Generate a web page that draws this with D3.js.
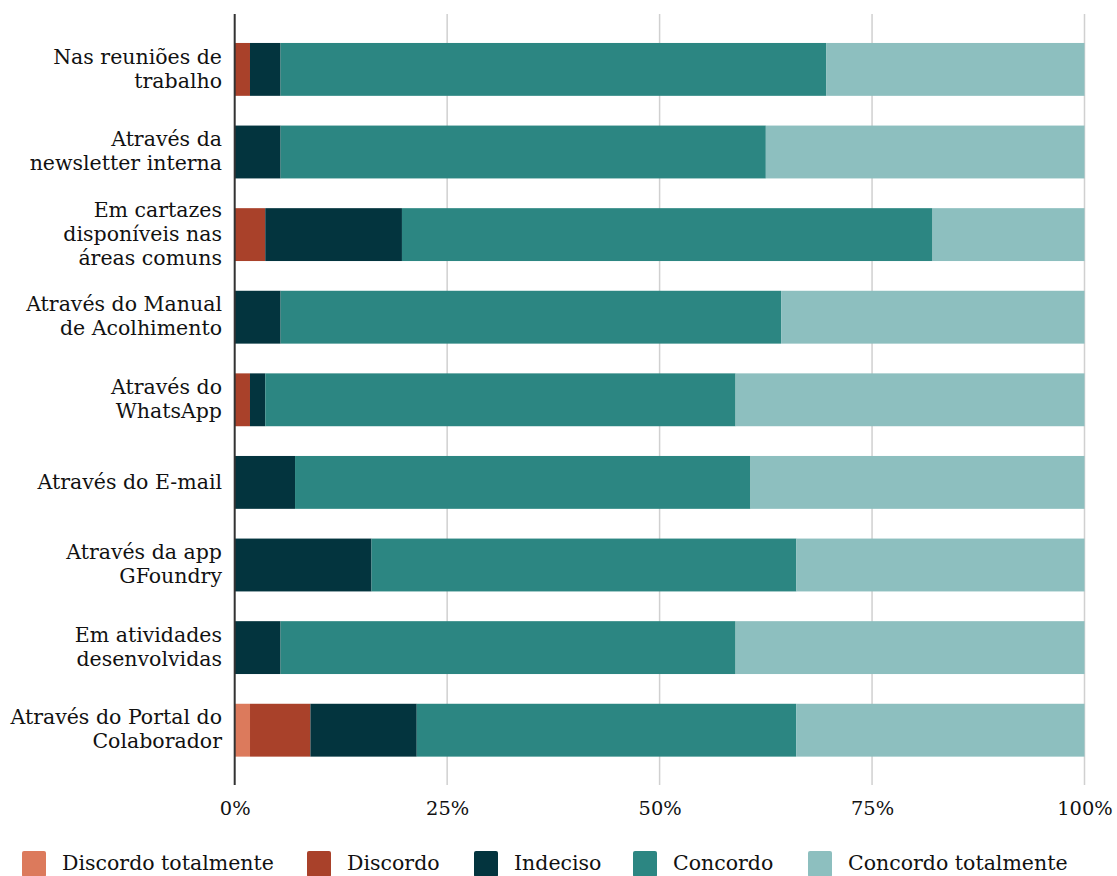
<!DOCTYPE html>
<html>
<head>
<meta charset="utf-8">
<script src="https://cdn.jsdelivr.net/npm/d3@7"></script>
<style>
  html, body { margin: 0; padding: 0; background: #fff; }
  svg { display: block; }
  text { font-family: "DejaVu Serif", Georgia, serif; fill: #111; }
</style>
</head>
<body>
<svg id="chart" width="1117" height="876"></svg>
<script>
// Survey answers (% of respondents) per communication channel
const categories = [
  ["Nas reuniões de", "trabalho"],
  ["Através da", "newsletter interna"],
  ["Em cartazes", "disponíveis nas", "áreas comuns"],
  ["Através do Manual", "de Acolhimento"],
  ["Através do", "WhatsApp"],
  ["Através do E-mail"],
  ["Através da app", "GFoundry"],
  ["Em atividades", "desenvolvidas"],
  ["Através do Portal do", "Colaborador"]
];
const seriesNames = ["Discordo totalmente", "Discordo", "Indeciso", "Concordo", "Concordo totalmente"];
const seriesColors = ["#dc7a5c", "#a9412a", "#03343e", "#2c8682", "#8dbfbf"];

const discordoTotalmente = [0,   0,   0,    0,   0,   0,   0,    0,   1.8];
const discordo           = [1.8, 0,   3.6,  0,   1.8, 0,   0,    0,   7.1];
const indeciso           = [3.6, 5.4, 16.1, 5.4, 1.8, 7.1, 16.1, 5.4, 12.5];
const concordo           = [64.3, 57.1, 62.5, 58.9, 55.4, 53.6, 50.0, 53.6, 44.6];
const concordoTotalmente = [30.4, 37.5, 17.9, 35.7, 41.1, 39.3, 33.9, 41.1, 33.9];

const tickValues = [0, 0.25, 0.5, 0.75, 1];
const tickLabels = ["0%", "25%", "50%", "75%", "100%"];

const columns = [discordoTotalmente, discordo, indeciso, concordo, concordoTotalmente];
const rows = categories.map((c, i) => {
  const r = { key: i };
  seriesNames.forEach((s, j) => { r[s] = columns[j][i]; });
  return r;
});

const svg = d3.select("#chart");
const left = 234.7, right = 1084.5;
const gridTop = 14, gridBottom = 785;

const x = d3.scaleLinear().domain([0, 1]).range([left, right]);
const y = d3.scaleBand()
  .domain(d3.range(categories.length))
  .range([28.1, 771.5])
  .paddingInner(0.36)
  .paddingOuter(0.18);

const color = d3.scaleOrdinal().domain(seriesNames).range(seriesColors);

// gridlines
svg.append("g")
  .selectAll("line")
  .data(tickValues.slice(1))
  .join("line")
  .attr("x1", d => x(d)).attr("x2", d => x(d))
  .attr("y1", gridTop).attr("y2", gridBottom)
  .attr("stroke", "#d0d0d0")
  .attr("stroke-width", 1.5);

// stacked bars, normalised to 100%
const stacked = d3.stack().keys(seriesNames).offset(d3.stackOffsetExpand)(rows);

svg.append("g")
  .selectAll("g")
  .data(stacked)
  .join("g")
  .attr("fill", d => color(d.key))
  .selectAll("rect")
  .data(d => d)
  .join("rect")
  .attr("x", d => x(d[0]))
  .attr("y", d => y(d.data.key))
  .attr("width", d => Math.max(0, x(d[1]) - x(d[0])))
  .attr("height", y.bandwidth());

// zero axis line
svg.append("line")
  .attr("x1", x(0)).attr("x2", x(0))
  .attr("y1", gridTop).attr("y2", gridBottom)
  .attr("stroke", "#333")
  .attr("stroke-width", 2);

// x axis tick labels
const xAxis = d3.axisBottom(x)
  .tickValues(tickValues)
  .tickFormat((d, i) => tickLabels[i])
  .tickSize(0)
  .tickPadding(0);
const gx = svg.append("g")
  .attr("transform", `translate(0, 815)`)
  .call(xAxis);
gx.select(".domain").remove();
gx.selectAll("text")
  .attr("dy", 0)
  .style("font-family", "\"DejaVu Serif\", Georgia, serif")
  .style("font-size", "19.4px")
  .attr("fill", "#111");

// category labels
const lineH = 24;
const labels = svg.append("g")
  .selectAll("text")
  .data(categories)
  .join("text")
  .attr("text-anchor", "end")
  .attr("font-size", "20.5px")
  .attr("transform", (d, i) => `translate(222, ${y(i) + y.bandwidth() / 2 - 1})`);
labels.selectAll("tspan")
  .data(d => d.map((t, k) => ({ t, k, n: d.length })))
  .join("tspan")
  .attr("x", 0)
  .attr("y", d => (d.k - (d.n - 1) / 2) * lineH)
  .attr("dy", "0.35em")
  .text(d => d.t);

// legend
const legendX = [22, 307, 474, 633, 808];
const legend = svg.append("g")
  .selectAll("g")
  .data(seriesNames)
  .join("g")
  .attr("transform", (d, i) => `translate(${legendX[i]}, 851)`);
legend.append("rect")
  .attr("width", 24).attr("height", 26).attr("rx", 2)
  .attr("fill", d => color(d));
legend.append("text")
  .attr("x", 40).attr("y", 12)
  .attr("dy", "0.35em")
  .attr("font-size", "20.5px")
  .text(d => d);
</script>
</body>
</html>
